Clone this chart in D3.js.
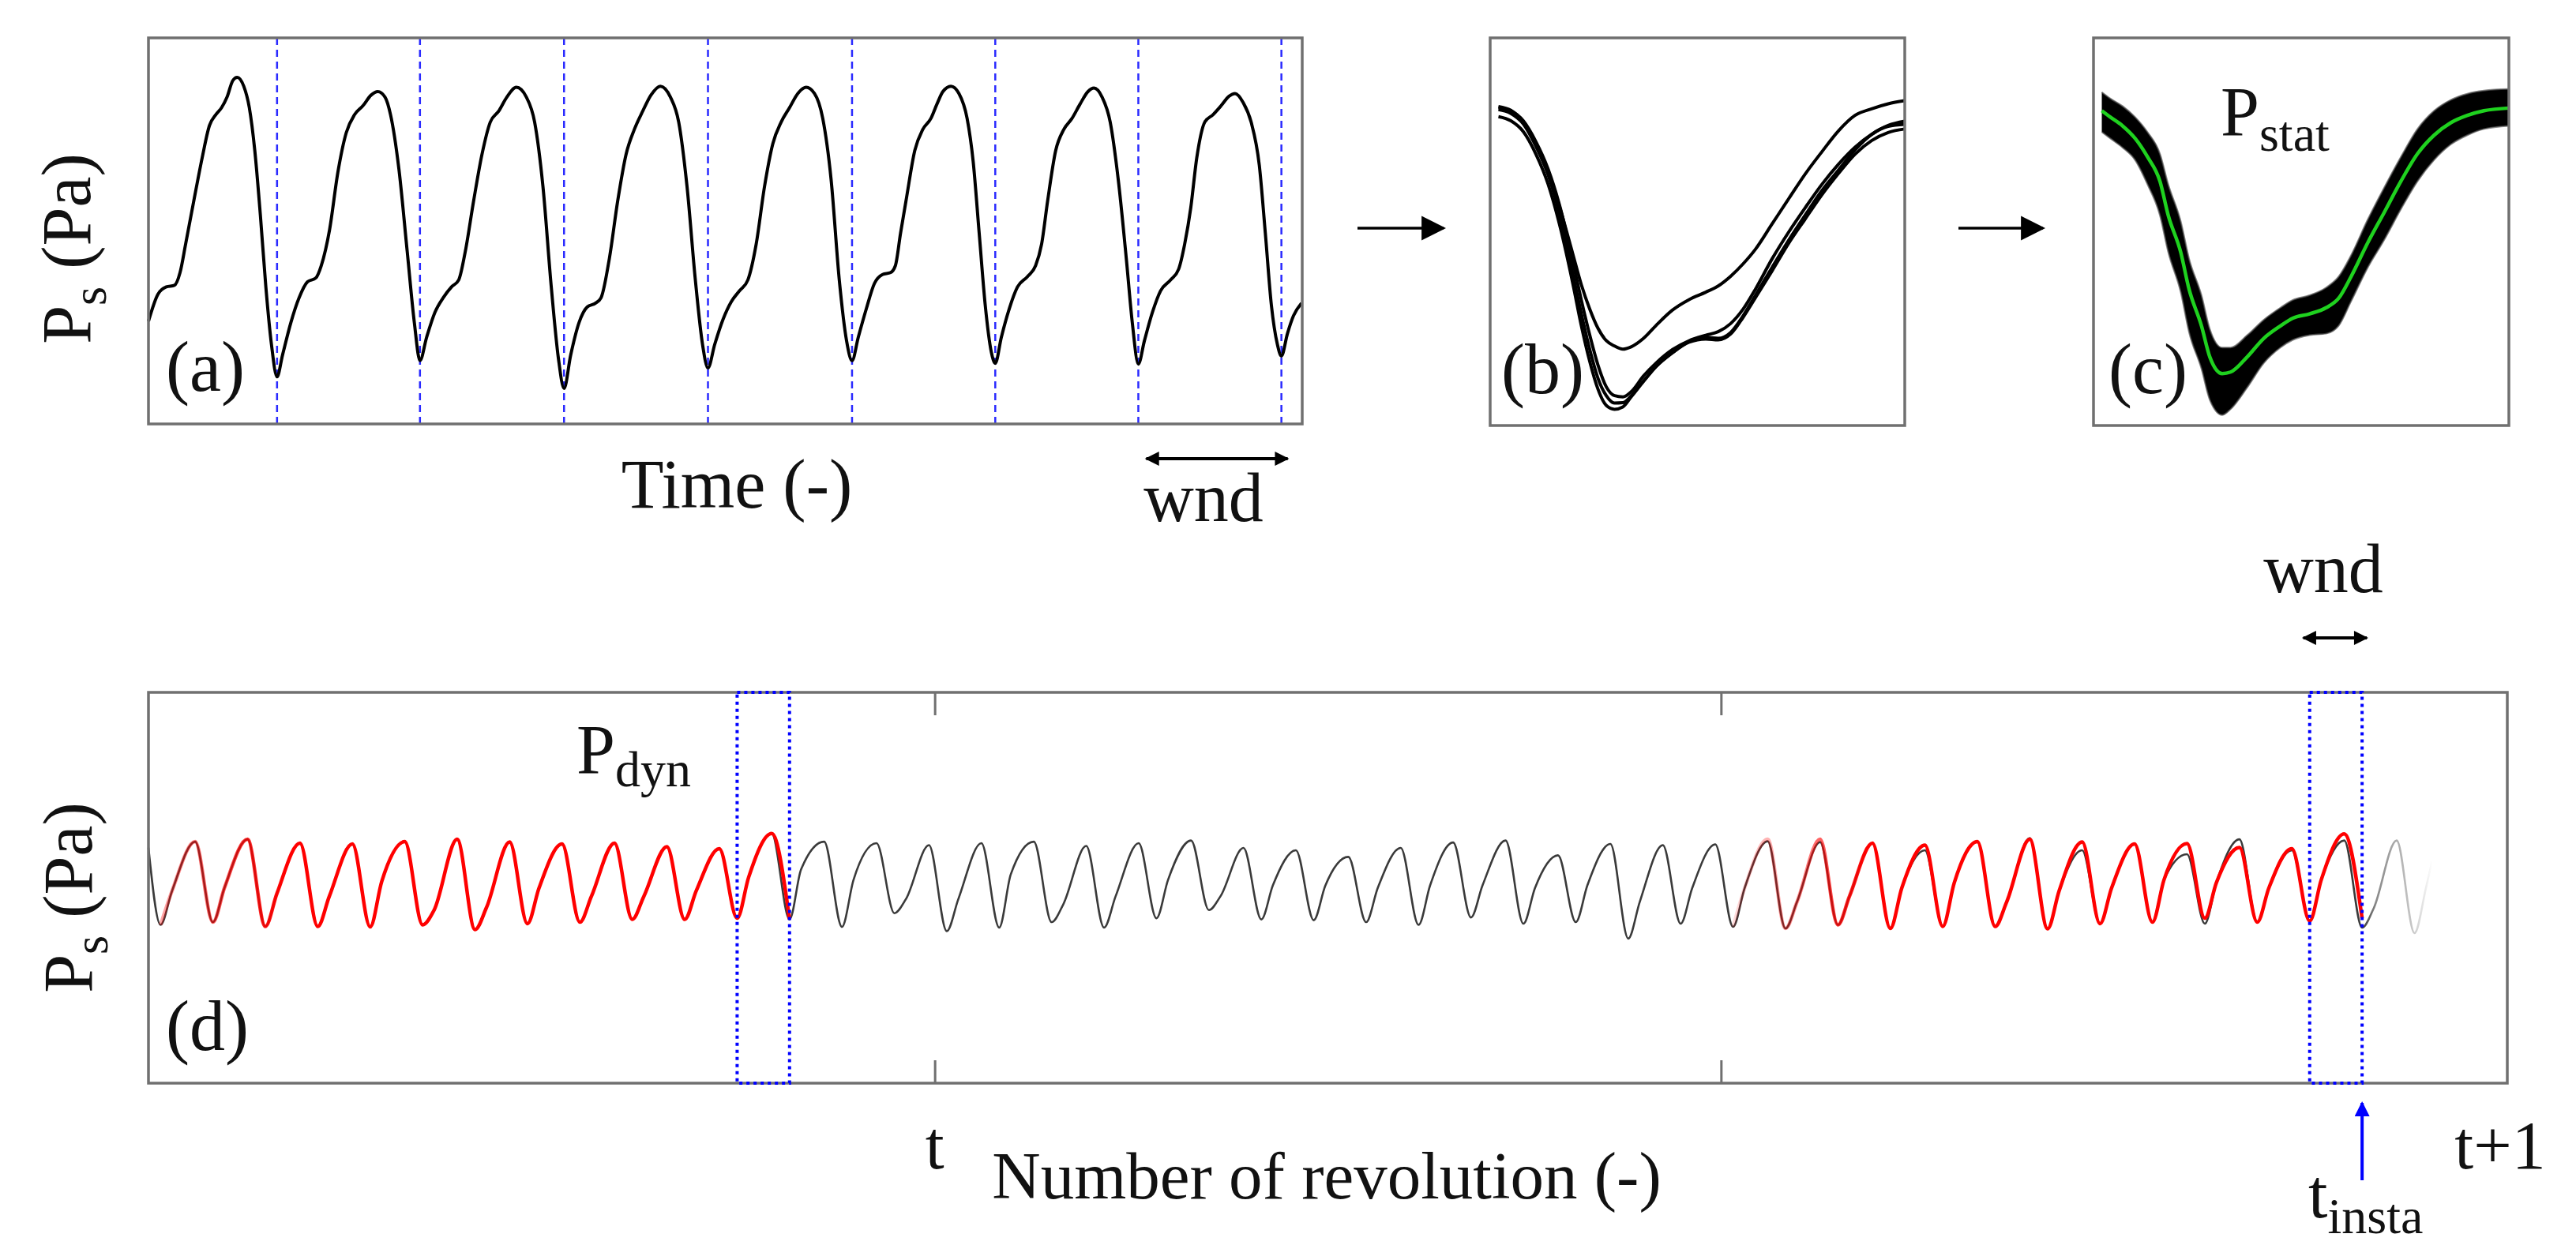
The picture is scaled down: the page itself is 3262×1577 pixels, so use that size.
<!DOCTYPE html>
<html>
<head>
<meta charset="utf-8">
<script src="https://cdn.jsdelivr.net/npm/d3@7"></script>
<style>
  body { margin: 0; background: #fff; }
  text { font-family: "Liberation Serif", "Times New Roman", "DejaVu Serif", serif; fill: #111; }
</style>
</head>
<body>
<script>
// ---- (a) raw signal: time in revolutions, pressure in arbitrary units ----
const aTime = [0.000,0.066,0.124,0.181,0.220,0.259,0.316,0.374,0.425,0.471,0.509,0.548,0.587,0.618,0.664,0.703,0.741,0.780,0.818,0.857,0.896,
  0.934,0.992,1.050,1.108,1.166,1.204,1.262,1.320,1.378,1.436,1.494,1.552,1.598,1.648,1.687,1.745,1.803,1.853,1.892,
  1.938,1.996,2.054,2.112,2.162,2.208,2.266,2.324,2.382,2.440,2.498,2.564,2.633,2.691,2.749,2.807,2.857,2.896,
  2.942,3.000,3.058,3.116,3.154,3.212,3.270,3.328,3.386,3.444,3.502,3.567,3.637,3.695,3.753,3.811,3.861,3.899,
  3.946,4.004,4.062,4.119,4.177,4.235,4.293,4.351,4.409,4.467,4.525,4.583,4.641,4.699,4.757,4.814,4.865,4.903,
  4.946,5.003,5.059,5.115,5.171,5.205,5.241,5.283,5.340,5.396,5.452,5.494,5.536,5.592,5.648,5.705,5.747,5.789,5.831,5.873,5.901,
  5.943,5.999,6.056,6.126,6.182,6.224,6.266,6.322,6.379,6.435,6.491,6.547,6.589,6.645,6.702,6.758,6.814,6.856,6.898,
  6.940,6.996,7.053,7.123,7.179,7.221,7.263,7.305,7.361,7.418,7.474,7.530,7.572,7.628,7.684,7.741,7.783,7.825,7.867,7.895,
  7.937,7.979,8.035];
const aPs = [26.6,33.6,35.5,35.9,39.2,46.6,57.8,68.9,77.3,80.2,81.9,84.7,88.9,89.8,87.5,81.9,70.8,54.0,35.5,20.6,12.2,
  17.8,26.2,32.7,36.8,37.8,41.0,50.3,65.2,75.4,80.1,82.4,85.2,86.1,84.7,80.1,66.1,44.7,26.2,16.4,
  22.4,28.9,32.7,35.5,37.3,44.7,57.8,69.8,78.2,81.0,84.7,87.2,84.7,78.2,61.5,35.5,16.9,9.2,
  17.8,26.2,30.3,31.3,32.7,42.9,57.8,69.8,76.3,81.0,85.2,87.5,84.7,78.2,61.5,37.3,20.6,14.5,
  20.6,27.1,31.7,34.5,37.3,46.6,61.5,72.6,78.2,81.9,85.6,87.2,85.6,79.1,63.3,37.3,21.5,16.4,
  22.4,29.9,36.4,38.7,39.2,41.0,49.4,58.7,70.8,76.3,79.1,82.8,86.1,87.5,85.6,79.1,68.0,49.4,30.8,18.7,15.7,
  22.4,29.9,35.5,38.2,41.0,46.6,57.8,70.8,76.3,79.1,82.8,86.1,87.0,84.7,78.2,63.3,42.9,26.2,15.5,
  21.5,28.9,34.5,37.3,40.1,46.6,55.9,68.9,78.2,80.1,82.4,84.9,85.6,83.3,78.2,67.0,49.4,30.8,20.6,17.6,
  23.4,28.0,31.3];
const aCuts = [0.896, 1.892, 2.896, 3.899, 4.903, 5.901, 6.898, 7.895];

// ---- (b) a few windows laid over each other (phase of the window) ----
const bPhase = [0.02,0.05,0.08,0.11,0.14,0.17,0.20,0.22,0.24,0.26,0.28,0.30,0.32,0.34,0.37,0.40,
  0.44,0.48,0.52,0.55,0.58,0.61,0.64,0.68,0.72,0.76,0.80,0.84,0.88,0.92,0.96,1.00];
const bWin1 = [82.3,81.3,78.2,72.5,65.4,55.5,44.0,36.3,30.1,25.1,21.9,20.5,19.7,20.3,22.5,25.8,
  29.8,32.5,34.4,36.0,38.5,41.7,45.5,52.0,58.5,64.9,70.6,76.0,80.0,81.7,83.0,83.8];
const bWin2 = [82.0,81.2,78.6,73.3,66.1,55.8,42.0,32.3,23.4,15.6,10.0,7.7,7.4,8.7,12.8,16.1,
  19.6,21.9,23.3,24.2,26.3,30.0,35.2,43.0,49.9,56.2,62.2,67.4,71.8,75.1,77.4,78.5];
const bWin3 = [81.5,80.5,77.8,72.1,64.6,53.4,38.8,28.8,19.7,12.2,7.7,5.8,5.9,7.6,11.5,15.2,
  18.8,21.7,22.7,22.5,24.0,28.3,33.6,40.8,47.8,54.3,60.6,65.9,71.1,75.1,77.2,77.7];
const bWin4 = [79.7,78.6,75.8,70.1,62.2,50.7,36.3,25.7,16.6,9.4,5.2,4.2,4.8,7.4,11.4,15.2,
  18.8,21.5,22.3,22.1,23.6,27.9,33.0,39.9,47.0,53.3,59.5,65.0,70.0,73.5,75.6,76.5];

// ---- (c) all windows: envelope of the bundle and the mean (P_stat) ----
const cPhase = [0.02,0.04,0.07,0.10,0.13,0.16,0.18,0.21,0.23,0.26,0.28,0.31,0.33,0.37,0.41,
  0.45,0.48,0.52,0.56,0.59,0.62,0.66,0.70,0.74,0.78,0.82,0.86,0.90,0.94,1.00];
const cMean = [81.2,79.6,77.3,74.1,69.3,63.0,54.2,44.7,35.2,25.7,17.7,13.4,13.8,17.7,22.5,
  25.7,27.7,28.8,30.4,32.8,38.4,47.1,55.0,63.0,70.1,74.9,78.1,80.0,81.2,81.9];
const cUpper = [86.0,84.4,82.4,79.6,75.7,70.1,62.2,52.7,43.1,33.6,24.9,20.1,20.1,23.3,27.3,
  30.4,32.4,33.6,35.6,38.4,43.9,53.1,61.4,69.3,76.5,81.2,84.0,85.6,86.4,86.8];
const cLower = [75.7,74.1,71.7,68.5,62.2,54.2,44.7,34.4,24.1,14.6,6.6,2.7,4.2,9.8,16.1,
  20.1,22.1,23.3,23.7,25.7,32.0,40.7,47.9,55.8,63.0,68.5,72.5,74.9,76.5,77.3];

// ---- (d) long record, one entry per revolution ----
const dynStart = 60.3;
const dynMin = [40.5,41.2,40.1,40.1,40.0,40.5,39.3,40.8,41.2,41.9,41.9,42.2,41.9,40.0,43.5,38.9,39.8,41.2,39.8,42.2,
  44.3,41.9,41.7,41.2,40.5,42.4,40.8,41.2,37.0,40.8,40.0,39.6,40.5,39.6,40.1,40.1,39.5,40.8,41.2,40.8,
  41.2,41.5,39.8,38.4];
const dynShoulder = [49.2,50.0,48.5,47.8,51.6,44.3,45.0,49.9,47.8,47.8,49.2,52.7,54.7,52.0,47.1,47.1,53.4,45.7,47.8,52.0,
  47.8,50.6,50.5,49.9,50.6,50.6,49.9,50.6,46.4,49.9,49.9,46.4,47.8,50.0,51.3,46.4,49.2,49.9,52.0,51.3,
  49.9,52.0,44.7,50.0];
const dynPeak = [61.8,62.4,61.4,61.2,61.8,62.4,61.7,61.2,61.4,60.5,60.0,63.9,61.8,61.4,60.9,61.4,61.8,60.7,61.4,62.1,
  60.2,59.6,57.9,60.2,61.6,62.1,58.3,61.2,60.9,61.1,61.9,61.7,61.4,59.6,61.8,62.7,59.6,61.2,58.6,62.4,
  59.6,62.1,62.1];
const dynTail = [43.57, 57.0];
// reconstruction (red), revolutions 30..41
const redFirst = 30;
const redPeak = [62.4,62.4,61.4,60.9,61.8,62.4,61.7,61.2,61.3,60.3,60.0,63.8];
const redMin = [40.0,39.6,40.5,39.6,40.1,40.1,39.5,40.8,41.2,42.2,41.2,41.5,42.2];
const dTicks = [15, 30];
const dLabels = [["t", 15], ["t+1", 45]];
const boxA = 11, boxB = 41;          // windows marked with the dotted boxes
const MIN_PH = 0.23, SH_PH = 0.45, PK_PH = 0.89;

// ---------------------------------------------------------------
const W = 3262, H = 1577;
const FONT = "'Liberation Serif', 'Times New Roman', 'DejaVu Serif', serif";
const svg = d3.select("body").append("svg").attr("width", W).attr("height", H)
  .attr("font-family", FONT);
svg.append("rect").attr("width", W).attr("height", H).attr("fill", "#fff");
const defs = svg.append("defs");

function marker(id, w, h, color) {
  defs.append("marker").attr("id", id)
    .attr("viewBox", "0 0 10 10").attr("refX", 9).attr("refY", 5)
    .attr("markerWidth", w).attr("markerHeight", h)
    .attr("markerUnits", "userSpaceOnUse")
    .attr("orient", "auto-start-reverse")
    .append("path").attr("d", "M0,0L10,5L0,10z").attr("fill", color);
}
marker("headBig", 31, 33, "#000");
marker("headSmall", 20, 18, "#000");
marker("headBlue", 24, 19, "#0000ff");

const FRAME = "#707070";
function frame(x, y) {
  svg.append("rect")
    .attr("x", x.range()[0]).attr("y", y.range()[1])
    .attr("width", x.range()[1] - x.range()[0])
    .attr("height", y.range()[0] - y.range()[1])
    .attr("fill", "none").attr("stroke", FRAME).attr("stroke-width", 3.5);
}
function label(x, y, parts, anchor) {
  const t = svg.append("text").attr("x", x).attr("y", y)
    .attr("font-family", FONT)
    .attr("text-anchor", anchor || "start").attr("font-size", 88);
  parts.forEach(p => {
    const s = t.append("tspan").text(p[0]);
    if (p[1]) s.attr("font-size", p[1]);
    if (p[2]) s.attr("dy", p[2]);
  });
  return t;
}
function yLabel(x, y) {
  label(0, 0, [["P"], ["s", 62, 20], [" (Pa)", 88, -20]], "middle")
    .attr("transform", `translate(${x},${y}) rotate(-90)`);
}
const line = (x, y) => d3.line().x(d => x(d[0])).y(d => y(d[1])).curve(d3.curveMonotoneX);

// ---------------- (a) ----------------
const xA = d3.scaleLinear().domain([0, 8.04]).range([188, 1649]);
const yA = d3.scaleLinear().domain([0, 100]).range([537, 48]);

svg.append("g").selectAll("line").data(aCuts).join("line")
  .attr("x1", d => xA(d)).attr("x2", d => xA(d))
  .attr("y1", yA.range()[1]).attr("y2", yA.range()[0])
  .attr("stroke", "#2a2aff").attr("stroke-width", 2.5).attr("stroke-dasharray", "9 6");

svg.append("path").datum(aTime.map((t, i) => [t, aPs[i]]))
  .attr("d", line(xA, yA)).attr("fill", "none")
  .attr("stroke", "#000").attr("stroke-width", 4);
frame(xA, yA);

yLabel(114, 315);
label(933, 643, [["Time (-)"]], "middle");
label(210, 495, [["(a)"]]).attr("font-size", 90);
svg.append("line")
  .attr("x1", xA(aCuts[6]) + 10).attr("x2", xA(aCuts[7]) + 8)
  .attr("y1", 581).attr("y2", 581)
  .attr("stroke", "#000").attr("stroke-width", 4)
  .attr("marker-start", "url(#headSmall)").attr("marker-end", "url(#headSmall)");
label((xA(aCuts[6]) + xA(aCuts[7])) / 2 - 8, 660, [["wnd"]], "middle");

// arrows between panels
[[1719, 1828], [2480, 2587]].forEach(a => {
  svg.append("line").attr("x1", a[0]).attr("x2", a[1]).attr("y1", 289).attr("y2", 289)
    .attr("stroke", "#000").attr("stroke-width", 3.5).attr("marker-end", "url(#headBig)");
});

// ---------------- (b) ----------------
const xB = d3.scaleLinear().domain([0, 1]).range([1887, 2412]);
const yB = d3.scaleLinear().domain([0, 100]).range([539, 48]);
svg.append("g").selectAll("path").data([bWin1, bWin2, bWin3, bWin4]).join("path")
  .attr("d", w => line(xB, yB)(bPhase.map((p, i) => [p, w[i]])))
  .attr("fill", "none").attr("stroke", "#000").attr("stroke-width", 4);
frame(xB, yB);
label(1901, 498, [["(b)"]]).attr("font-size", 90);

// ---------------- (c) ----------------
const xC = d3.scaleLinear().domain([0, 1]).range([2651, 3177]);
const yC = d3.scaleLinear().domain([0, 100]).range([539, 48]);
const band = cPhase.map((p, i) => [p, cLower[i], cUpper[i]]);
svg.append("path").datum(band)
  .attr("d", d3.area().x(d => xC(d[0])).y0(d => yC(d[1])).y1(d => yC(d[2])).curve(d3.curveMonotoneX))
  .attr("fill", "#000");
[cUpper, cLower].forEach(e => {
  svg.append("path").datum(cPhase.map((p, i) => [p, e[i]]))
    .attr("d", line(xC, yC)).attr("fill", "none")
    .attr("stroke", "#555").attr("stroke-width", 2).attr("opacity", 0.7);
});
svg.append("path").datum(cPhase.map((p, i) => [p, cMean[i]]))
  .attr("d", line(xC, yC)).attr("fill", "none")
  .attr("stroke", "#1fd11f").attr("stroke-width", 4.5);
frame(xC, yC);
label(2670, 498, [["(c)"]]).attr("font-size", 90);
label(2812, 171, [["P"], ["stat", 64, 20]]);

// ---------------- (d) ----------------
const xD = d3.scaleLinear().domain([0, 45]).range([188, 3175]);
const yD = d3.scaleLinear().domain([0, 100]).range([1372, 877]);

const dynPts = [[0, dynStart]];
dynMin.forEach((m, k) => {
  dynPts.push([k + MIN_PH, m]);
  if (k < dynShoulder.length) dynPts.push([k + SH_PH, dynShoulder[k]]);
  if (k < dynPeak.length) dynPts.push([k + PK_PH, dynPeak[k]]);
});
dynPts.push(dynTail);

function cycles(from, to, mins, peaks) {
  const pts = [];
  for (let k = from; k <= to; k++) {
    pts.push([k + MIN_PH, mins(k)]);
    pts.push([k + SH_PH, dynShoulder[k]]);
    pts.push([k + PK_PH, peaks(k)]);
  }
  pts.push([to + 1 + MIN_PH, mins(to + 1)]);
  return pts;
}
const redLeft = cycles(0, boxA, k => dynMin[k], k => dynPeak[k]);
const redRight = cycles(redFirst, boxB, k => redMin[k - redFirst], k => redPeak[k - redFirst]);

function grad(id, stops) {
  const a = stops[0][0], b = stops[stops.length - 1][0];
  const g = defs.append("linearGradient").attr("id", id)
    .attr("gradientUnits", "userSpaceOnUse")
    .attr("x1", xD(a)).attr("x2", xD(b)).attr("y1", 0).attr("y2", 0);
  stops.forEach(s => g.append("stop").attr("offset", (s[0] - a) / (b - a))
    .attr("stop-color", s[1]).attr("stop-opacity", s[2]));
}
grad("gBlack", [[0, "#3a3a3a", 1], [boxB + 1 + MIN_PH, "#3a3a3a", 1], [42.5, "#8a8a8a", 1],
  [43.2, "#c8c8c8", 1], [dynTail[0], "#ffffff", 1]]);
grad("gRedL", [[MIN_PH, "#ff0000", 0.35], [1.3, "#ff0000", 0.6], [2.6, "#ff0000", 1], [boxA + 2, "#ff0000", 1]]);
grad("gRedR", [[redFirst, "#ff0000", 0.08], [31.5, "#ff0000", 0.45], [32.8, "#ff0000", 1], [boxB + 2, "#ff0000", 1]]);

svg.append("path").datum(dynPts).attr("d", line(xD, yD))
  .attr("fill", "none").attr("stroke", "url(#gBlack)").attr("stroke-width", 2.6);
svg.append("path").datum(redLeft).attr("d", line(xD, yD))
  .attr("fill", "none").attr("stroke", "url(#gRedL)").attr("stroke-width", 4.5);
svg.append("path").datum(redRight).attr("d", line(xD, yD))
  .attr("fill", "none").attr("stroke", "url(#gRedR)").attr("stroke-width", 4.5);

// ticks top and bottom, pointing inward
const tickAxis = (axis, y) => {
  const g = svg.append("g").attr("transform", `translate(0,${y})`)
    .call(axis.tickValues(dTicks).tickSize(-29).tickFormat(""));
  g.select(".domain").remove();
  g.selectAll(".tick line").attr("stroke", FRAME).attr("stroke-width", 3);
};
tickAxis(d3.axisBottom(xD), yD.range()[0]);
tickAxis(d3.axisTop(xD), yD.range()[1]);
frame(xD, yD);

// dotted windows, on top of the frame
[boxA, boxB].forEach(k => {
  svg.append("rect")
    .attr("x", xD(k + MIN_PH)).attr("y", yD.range()[1])
    .attr("width", xD(k + 1 + MIN_PH) - xD(k + MIN_PH))
    .attr("height", yD.range()[0] - yD.range()[1])
    .attr("fill", "none").attr("stroke", "#0000ff")
    .attr("stroke-width", 4).attr("stroke-dasharray", "4 5");
});

yLabel(116, 1137);
label(210, 1330, [["(d)"]]).attr("font-size", 90);
label(730, 979, [["P"], ["dyn", 64, 17]]);

dLabels.forEach(l => label(xD(l[1]) - (l[1] === 45 ? 9 : 0), 1480, [[l[0]]], "middle").attr("font-size", 86));
label(1680, 1518, [["Number of revolution (-)"]], "middle").attr("font-size", 85);

// wnd arrow above the last window
const wA = xD(boxB + MIN_PH), wB = xD(boxB + 1 + MIN_PH);
svg.append("line").attr("x1", wA - 8).attr("x2", wB + 6).attr("y1", 808).attr("y2", 808)
  .attr("stroke", "#000").attr("stroke-width", 4)
  .attr("marker-start", "url(#headSmall)").attr("marker-end", "url(#headSmall)");
label((wA + wB) / 2 - 16, 750, [["wnd"]], "middle");

// t_insta arrow
svg.append("line").attr("x1", wB).attr("x2", wB).attr("y1", 1495).attr("y2", 1397)
  .attr("stroke", "#0000ff").attr("stroke-width", 4).attr("marker-end", "url(#headBlue)");
label(2923, 1542, [["t"], ["insta", 64, 20]]);
</script>
</body>
</html>
